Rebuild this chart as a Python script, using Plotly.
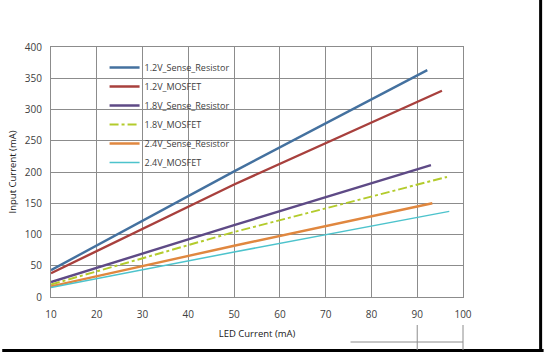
import plotly.graph_objects as go

names = ["1.2V_Sense_Resistor", "1.2V_MOSFET", "1.8V_Sense_Resistor",
         "1.8V_MOSFET", "2.4V_Sense_Resistor", "2.4V_MOSFET"]
x_vals = [
    [10, 50, 92.2],
    [10, 50, 95.4],
    [10, 50, 93.0],
    [10, 50, 96.5],
    [10, 50, 93.3],
    [10, 50, 97.0],
]
y_vals = [
    [43, 201, 363],
    [38, 180, 330],
    [24, 115, 211],
    [20, 104, 192],
    [17, 82, 150],
    [15, 72, 137],
]
colors = ["#44719F", "#A8403D", "#5E4A86", "#B3CB2C", "#E0873F", "#4DC3CC"]
dashes = ["solid", "solid", "solid", "dashdot", "solid", "solid"]
widths = [2.4, 2.4, 2.4, 2.0, 2.4, 1.5]

fig = go.Figure()
for n, xs, ys, c, d, w in zip(names, x_vals, y_vals, colors, dashes, widths):
    fig.add_trace(go.Scatter(x=xs, y=ys, mode="lines", name=n,
                             line=dict(color=c, dash=d, width=w)))

axis_common = dict(showgrid=True, gridcolor="#8C8C8C", gridwidth=1,
                   showline=True, linecolor="#8C8C8C", linewidth=1, mirror=True,
                   zeroline=False, ticks="", tickfont=dict(size=10, color="#404040"))
fig.update_xaxes(range=[10, 100], dtick=10, ticklabelstandoff=8,
                 title=dict(text="LED Current (mA)", font=dict(size=9.5, color="#202020"), standoff=10),
                 **axis_common)
fig.update_yaxes(range=[0, 400], dtick=50, ticklabelstandoff=6,
                 title=dict(text="Input Current (mA)", font=dict(size=9.5, color="#202020"), standoff=6),
                 **axis_common)

fig.update_layout(
    width=544, height=352,
    margin=dict(l=49, r=81, t=47, b=55),
    paper_bgcolor="white", plot_bgcolor="white",
    font=dict(family="Open Sans, DejaVu Sans, sans-serif", size=10, color="#404040"),
    legend=dict(x=0.13, y=0.976, xanchor="left", yanchor="top",
                bgcolor="rgba(255,255,255,0)", font=dict(size=9, color="#404040"),
                tracegroupgap=0, itemwidth=30),
    showlegend=True,
    shapes=[
        dict(type="line", xref="paper", yref="paper", x0=(541-49)/414, x1=(541-49)/414,
             y0=(297-352)/250, y1=(297-0)/250, line=dict(color="black", width=3)),
        dict(type="line", xref="paper", yref="paper", x0=-49/414, x1=(544-49)/414,
             y0=(297-350.5)/250, y1=(297-350.5)/250, line=dict(color="black", width=3)),
        dict(type="line", xref="paper", yref="paper", x0=(350-49)/414, x1=(463-49)/414,
             y0=(297-342)/250, y1=(297-342)/250, line=dict(color="#8C8C8C", width=1)),
        dict(type="line", xref="paper", yref="paper", x0=(417-49)/414, x1=(417-49)/414,
             y0=(297-325)/250, y1=(297-350)/250, line=dict(color="#8C8C8C", width=1)),
        dict(type="line", xref="paper", yref="paper", x0=(463-49)/414, x1=(463-49)/414,
             y0=(297-325)/250, y1=(297-350)/250, line=dict(color="#8C8C8C", width=1)),
    ],
)

fig.write_html("out.html")
